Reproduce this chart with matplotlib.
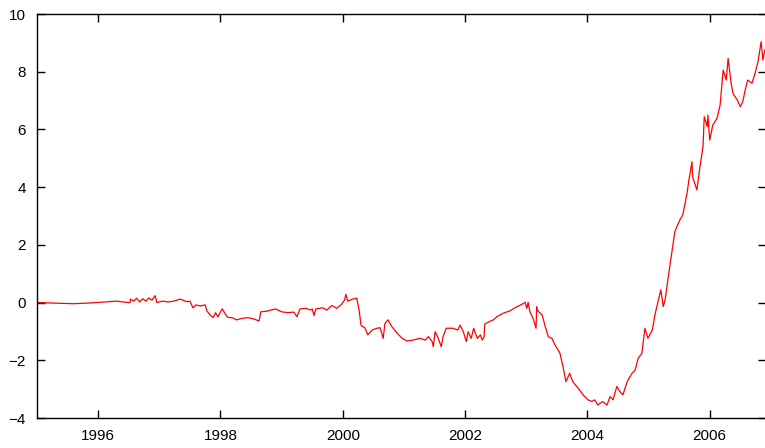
import matplotlib
matplotlib.use("Agg")
import matplotlib.pyplot as plt

# values (decimal year, value)
years = [
    1995.00, 1995.30, 1995.60, 1995.90, 1996.10, 1996.30, 1996.45, 1996.52,
    1996.53, 1996.58, 1996.63, 1996.68, 1996.73, 1996.78, 1996.83, 1996.88,
    1996.93, 1996.96, 1997.05, 1997.15, 1997.25, 1997.34, 1997.45, 1997.50,
    1997.55, 1997.60, 1997.67, 1997.75, 1997.78, 1997.84, 1997.88, 1997.92,
    1997.96, 1998.00, 1998.03, 1998.08, 1998.12, 1998.20, 1998.26, 1998.35,
    1998.45, 1998.55, 1998.63, 1998.66, 1998.75, 1998.90, 1999.00, 1999.10,
    1999.20, 1999.25, 1999.30, 1999.40, 1999.47, 1999.50, 1999.53, 1999.56,
    1999.67, 1999.74, 1999.82, 1999.90, 1999.98, 2000.03, 2000.05, 2000.08,
    2000.16, 2000.23, 2000.27, 2000.30, 2000.36, 2000.41, 2000.48, 2000.56,
    2000.61, 2000.66, 2000.69, 2000.74, 2000.80, 2000.89, 2000.97, 2001.05,
    2001.15, 2001.26, 2001.35, 2001.40, 2001.46, 2001.48, 2001.51, 2001.55,
    2001.61, 2001.64, 2001.69, 2001.80, 2001.88, 2001.92, 2001.97, 2002.02,
    2002.05, 2002.10, 2002.14, 2002.20, 2002.25, 2002.28, 2002.31, 2002.32,
    2002.38, 2002.46, 2002.52, 2002.57, 2002.62, 2002.73, 2002.85, 2002.93,
    2002.98, 2003.01, 2003.03, 2003.06, 2003.11, 2003.16, 2003.17, 2003.19,
    2003.26, 2003.31, 2003.36, 2003.42, 2003.47, 2003.52, 2003.55, 2003.60,
    2003.65, 2003.71, 2003.76, 2003.85, 2003.93, 2004.01, 2004.07, 2004.12,
    2004.17, 2004.25, 2004.32, 2004.37, 2004.42, 2004.48, 2004.53, 2004.58,
    2004.65, 2004.73, 2004.78, 2004.83, 2004.89, 2004.94, 2004.99, 2005.06,
    2005.11, 2005.16, 2005.20, 2005.24, 2005.27, 2005.35, 2005.43, 2005.51,
    2005.56, 2005.63, 2005.66, 2005.71, 2005.72, 2005.79, 2005.84, 2005.89,
    2005.91, 2005.96, 2005.97, 2006.00, 2006.05, 2006.12, 2006.17, 2006.20,
    2006.22, 2006.27, 2006.30, 2006.35, 2006.38, 2006.45, 2006.50, 2006.54,
    2006.58, 2006.62, 2006.69, 2006.74, 2006.79, 2006.84, 2006.87, 2006.90,
]
values = [
    0.00, -0.02, -0.04, -0.01, 0.02, 0.05, 0.01, 0.00,
    0.12, 0.05, 0.15, 0.02, 0.13, 0.05, 0.16, 0.08,
    0.24, 0.00, 0.05, 0.02, 0.06, 0.12, 0.03, 0.05,
    -0.18, -0.08, -0.12, -0.08, -0.30, -0.45, -0.52, -0.35,
    -0.50, -0.32, -0.22, -0.40, -0.51, -0.53, -0.60, -0.55,
    -0.52, -0.57, -0.64, -0.32, -0.30, -0.22, -0.32, -0.35,
    -0.33, -0.49, -0.22, -0.20, -0.26, -0.22, -0.45, -0.22,
    -0.18, -0.26, -0.10, -0.20, -0.06, 0.09, 0.29, 0.05,
    0.12, 0.15, -0.32, -0.80, -0.87, -1.12, -0.95, -0.89,
    -0.87, -1.24, -0.72, -0.60, -0.83, -1.06, -1.24, -1.33,
    -1.30, -1.24, -1.30, -1.18, -1.35, -1.53, -1.01, -1.18,
    -1.53, -1.18, -0.89, -0.89, -0.95, -0.78, -1.01, -1.35,
    -1.01, -1.24, -0.89, -1.24, -1.12, -1.30, -1.20, -0.75,
    -0.68, -0.60, -0.49, -0.43, -0.37, -0.29, -0.14, -0.06,
    0.01, -0.20, 0.01, -0.32, -0.54, -0.89, -0.14, -0.29,
    -0.43, -0.83, -1.18, -1.24, -1.47, -1.64, -1.75, -2.22,
    -2.74, -2.45, -2.74, -2.97, -3.20, -3.37, -3.43, -3.37,
    -3.55, -3.43, -3.55, -3.26, -3.37, -2.91, -3.08, -3.20,
    -2.74, -2.45, -2.34, -1.93, -1.76, -0.89, -1.24, -0.95,
    -0.37, 0.09, 0.44, -0.14, 0.09, 1.30, 2.46, 2.86,
    3.04, 3.80, 4.25, 4.88, 4.36, 3.90, 4.71, 5.40,
    6.44, 6.10, 6.50, 5.63, 6.15, 6.39, 6.85, 7.60,
    8.06, 7.71, 8.46, 7.60, 7.25, 7.02, 6.79, 6.96,
    7.37, 7.71, 7.60, 7.94, 8.35, 9.04, 8.40, 8.75,
]
xticks = [1996, 1998, 2000, 2002, 2004, 2006]
yticks = [-4, -2, 0, 2, 4, 6, 8, 10]

plt.rcParams['font.family'] = ['Liberation Sans', 'DejaVu Sans']

fig = plt.figure(figsize=(7.65, 4.48), dpi=100)
ax = fig.add_axes([37 / 765, 30 / 448, 729 / 765, 404 / 448])

ax.plot(years, values, color="red", linewidth=0.9)

ax.set_xlim(1995, 2006.92)
ax.set_ylim(-4, 10)
ax.set_xticks(xticks)
ax.set_yticks(yticks)
ax.tick_params(direction="in", length=6, width=1, top=True, right=True,
               labelsize=11, colors="black")
ax.tick_params(axis="x", pad=8)
ax.tick_params(axis="y", pad=8)
for s in ax.spines.values():
    s.set_linewidth(1)

fig.savefig("out.png", dpi=100)
